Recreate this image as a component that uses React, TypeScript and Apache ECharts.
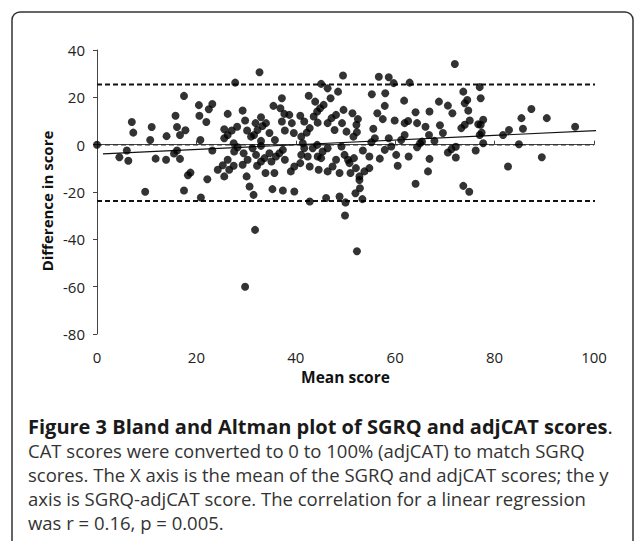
import React, { useEffect, useRef } from "react";
import * as echarts from "echarts";

// [mean score, difference in score]
const points: [number, number][] = [
  [0, 0], [7.0, 9.6], [7.3, 5.1], [11.0, 7.5], [10.7, 2.0], [4.5, -5.3], [6.0, -2.5], [6.3, -6.8],
  [9.7, -19.9], [11.8, -5.9], [14.0, 3.6], [13.9, -6.4], [15.8, 12.2], [16.1, 7.5], [17.8, 6.1],
  [16.7, 4.1], [15.5, -3.7], [16.1, -2.5], [16.7, -6.0], [17.5, 20.6], [18.3, -12.9], [18.8, -11.8],
  [17.5, -19.4], [20.5, 16.7], [20.6, 12.2], [20.8, 2.0], [20.9, -22.3],
  [32.7, 30.6], [27.8, 26.2], [22.5, 15.0], [23.2, 17.2], [22.0, 9.6], [22.2, -14.6], [23.2, -2.5],
  [24.3, -10.6], [25.3, -8.7], [25.6, 6.5], [26.3, 13.0], [25.6, 2.7], [26.3, 4.1], [27.1, 6.0],
  [28.2, 7.6], [27.5, 0.6], [29.3, 14.4], [29.8, 10.2], [30.2, 6.0], [31.9, 9.1], [33.0, 11.6],
  [32.3, 6.2], [33.3, 7.9], [34.0, 9.1], [31.0, 3.4], [31.6, 4.1], [33.0, 1.6], [34.7, 4.9],
  [35.5, 16.4], [37.2, 19.6], [36.9, 15.4], [37.7, 13.0], [38.7, 12.6], [40.9, 12.2], [37.2, 9.8],
  [39.2, 9.1], [37.8, 6.0], [39.6, 4.9], [35.8, 2.0], [41.1, 3.4],
  [26.3, -6.4], [27.6, -2.9], [28.3, -1.1], [25.6, -13.4], [26.6, -10.6], [27.5, -8.9], [29.5, -3.6],
  [30.3, -6.4], [29.3, -8.5], [30.1, -13.4], [30.7, -17.7], [31.5, -21.2], [31.3, -1.5], [32.0, -4.3],
  [33.0, -0.5], [32.2, -8.9], [33.0, -7.1], [33.7, -5.7], [33.9, -12.0], [34.7, -3.6], [35.1, -7.1],
  [36.0, -5.0], [36.7, -3.6], [37.4, -2.2], [35.7, -12.0], [37.8, -6.4], [39.0, -11.3], [39.7, -9.2],
  [40.9, -7.8], [41.1, -4.3], [35.3, -18.8], [37.4, -19.4], [39.7, -19.8],
  [31.8, -36.0], [29.8, -60.0], [42.8, -24.0], [46.1, -22.5], [48.8, -21.9], [50.0, -24.4], [49.9, -29.9],
  [52.3, -45.0], [52.0, -20.5], [52.9, -18.4], [53.4, -23.0], [52.8, -14.9], [64.1, -16.5], [73.7, -17.4],
  [74.9, -19.9],
  [49.5, 29.2], [45.1, 25.7], [46.4, 23.8], [48.5, 22.4], [47.0, 19.6], [42.6, 20.7], [43.9, 18.2],
  [45.6, 16.8], [43.6, 11.9], [44.3, 14.0], [44.9, 15.4], [41.7, 9.8], [42.8, 7.0], [42.2, 5.1],
  [44.4, 9.3], [46.4, 9.1], [47.2, 11.2], [48.1, 12.6], [49.6, 14.7], [47.8, 6.2], [49.3, 9.1],
  [51.4, 13.3], [52.5, 10.8], [52.2, 8.4], [50.2, 5.5], [51.6, 3.4], [52.3, 5.3], [55.3, 21.3],
  [56.7, 28.7], [58.7, 28.5], [59.7, 26.0], [58.0, 21.7], [57.9, 16.4], [56.4, 13.3], [57.5, 10.8],
  [59.9, 10.2], [55.6, 6.7], [55.9, 2.7], [55.2, 1.0], [58.7, 2.7], [61.2, 2.0],
  [41.4, 0.6], [41.7, -1.5], [43.4, -1.5], [44.3, -0.1], [42.4, -5.0], [44.4, -5.0], [45.4, -2.9],
  [46.4, -1.5], [45.1, -5.7], [42.8, -9.2], [44.6, -10.6], [46.4, -11.3], [47.4, -9.2], [48.1, -6.4],
  [49.2, -0.8], [49.8, -4.3], [50.5, -6.4], [50.8, -7.8], [51.7, -5.7], [48.8, -12.0], [51.0, -12.0],
  [52.1, -9.9], [52.8, -13.4], [53.8, -11.3], [54.8, -9.9], [53.5, -2.5], [54.8, -5.0], [56.9, -5.9],
  [57.9, -2.2], [59.2, -0.8], [60.2, -4.3], [60.5, -8.9],
  [72.0, 34.1], [62.9, 26.2], [61.8, 18.6], [64.1, 13.7], [64.4, 9.1], [66.9, 14.0], [66.1, 7.6],
  [66.8, 4.1], [61.9, 9.1], [62.6, 10.0], [61.9, 4.1], [68.8, 18.2], [70.6, 16.5], [71.5, 13.3],
  [69.0, 8.2], [69.6, 4.9], [73.7, 22.4], [74.5, 18.9], [74.0, 17.5], [74.7, 14.4], [77.0, 24.3],
  [77.2, 19.6], [75.0, 10.2], [74.0, 8.4], [73.3, 7.0], [76.7, 8.6], [77.7, 10.5], [77.2, 8.4],
  [77.4, 5.1], [77.0, 4.1], [77.7, 0.6], [76.2, -2.5], [81.7, 4.1], [67.9, 1.6], [65.4, 1.3],
  [64.4, -1.1], [65.0, 0.6], [62.7, -5.0], [66.9, -6.0], [66.6, -11.3], [70.6, -3.3], [72.2, -0.9],
  [71.3, -1.9], [72.2, -5.4],
  [82.9, 6.2], [85.4, 11.2], [85.7, 6.7], [87.4, 15.1], [90.5, 11.2], [96.2, 7.6], [84.9, 0.2],
  [89.5, -5.3], [82.7, -9.2],
];

const upperLimit = 25.4;
const meanDifference = 0;
const lowerLimit = -23.8;
const limitXRange = [0, 103];
const meanXRange = [0, 100];
const regressionLine: [number, number][] = [[1.2, -3.9], [103, 6.2]];

const xAxisTitle = "Mean score";
const yAxisTitle = "Difference in score";
const captionTitle = "Figure 3 Bland and Altman plot of SGRQ and adjCAT scores";
const captionLines = [
  "CAT scores were converted to 0 to 100% (adjCAT) to match SGRQ",
  "scores. The X axis is the mean of the SGRQ and adjCAT scores; the y",
  "axis is SGRQ-adjCAT score. The correlation for a linear regression",
  "was r = 0.16, p = 0.005.",
];

const FONT = "'Open Sans', 'Noto Sans', sans-serif";

export default function App() {
  const ref = useRef<HTMLDivElement>(null);
  useEffect(() => {
    const chart = echarts.init(ref.current!, null, { renderer: "svg" });
    const dashed = (y: number, range: number[], width: number, color: string) => ({
      type: "line",
      data: [[range[0], y], [range[1], y]],
      symbol: "none",
      clip: false,
      silent: true,
      z: 1,
      lineStyle: { color, width, type: [5, 3] },
    });
    chart.setOption({
      animation: false,
      backgroundColor: "#fff",
      grid: { left: 97, right: 40, top: 50, bottom: 207 },
      xAxis: {
        type: "value",
        min: 0,
        max: 100,
        interval: 20,
        offset: 8,
        name: xAxisTitle,
        nameLocation: "middle",
        nameGap: 16,
        nameTextStyle: { fontFamily: FONT, fontWeight: "bold", fontSize: 15.5, color: "#111", verticalAlign: "top" },
        axisLine: { show: true, lineStyle: { color: "#444", width: 1 } },
        axisTick: { show: true, inside: true, length: 4, lineStyle: { color: "#444" } },
        axisLabel: { fontFamily: FONT, fontSize: 15, color: "#222", margin: 7 },
        splitLine: { show: false },
      },
      yAxis: {
        type: "value",
        min: -80,
        max: 40,
        interval: 20,
        axisLine: { show: true, onZero: false, lineStyle: { color: "#444", width: 1 } },
        axisTick: { show: true, inside: false, length: 4, lineStyle: { color: "#444" } },
        axisLabel: { fontFamily: FONT, fontSize: 15, color: "#222", margin: 12 },
        splitLine: { show: false },
      },
      series: [
        dashed(upperLimit, limitXRange, 2, "#111"),
        dashed(lowerLimit, limitXRange, 2, "#111"),
        dashed(meanDifference, meanXRange, 1.5, "#333"),
        {
          type: "line",
          data: regressionLine,
          symbol: "none",
          clip: false,
          silent: true,
          z: 2,
          lineStyle: { color: "#111", width: 1.2 },
        },
        {
          type: "scatter",
          data: points,
          symbol: "circle",
          symbolSize: 8,
          z: 3,
          itemStyle: { color: "#000" },
        },
      ],
      graphic: [
        {
          type: "rect",
          shape: { x: 12, y: 12, width: 621, height: 600, r: 8 },
          style: { fill: "none", stroke: "#333", lineWidth: 1.5 },
          silent: true,
        },
        {
          type: "text",
          x: 47,
          y: 201,
          rotation: Math.PI / 2,
          style: {
            text: yAxisTitle,
            font: `bold 15px ${FONT}`,
            fill: "#111",
            align: "center",
            verticalAlign: "middle",
          },
        },
        {
          type: "text",
          x: 28,
          y: 426,
          style: {
            text: `{b|${captionTitle}}{r|.}`,
            verticalAlign: "middle",
            lineHeight: 21,
            rich: {
              b: { font: `bold 20px ${FONT}`, fill: "#1a1a1a", lineHeight: 21 },
              r: { font: `20px ${FONT}`, fill: "#1a1a1a", lineHeight: 21 },
            },
          },
        },
        ...captionLines.map((line, i) => ({
          type: "text",
          x: 28,
          y: 450 + i * 24,
          style: {
            text: line,
            font: `18.5px ${FONT}`,
            lineHeight: 21,
            fill: "#333",
            verticalAlign: "middle",
          },
        })),
      ],
    });
    return () => chart.dispose();
  }, []);
  return <div ref={ref} style={{ position: "absolute", left: 0, top: 0, width: 634, height: 541 }} />;
}
